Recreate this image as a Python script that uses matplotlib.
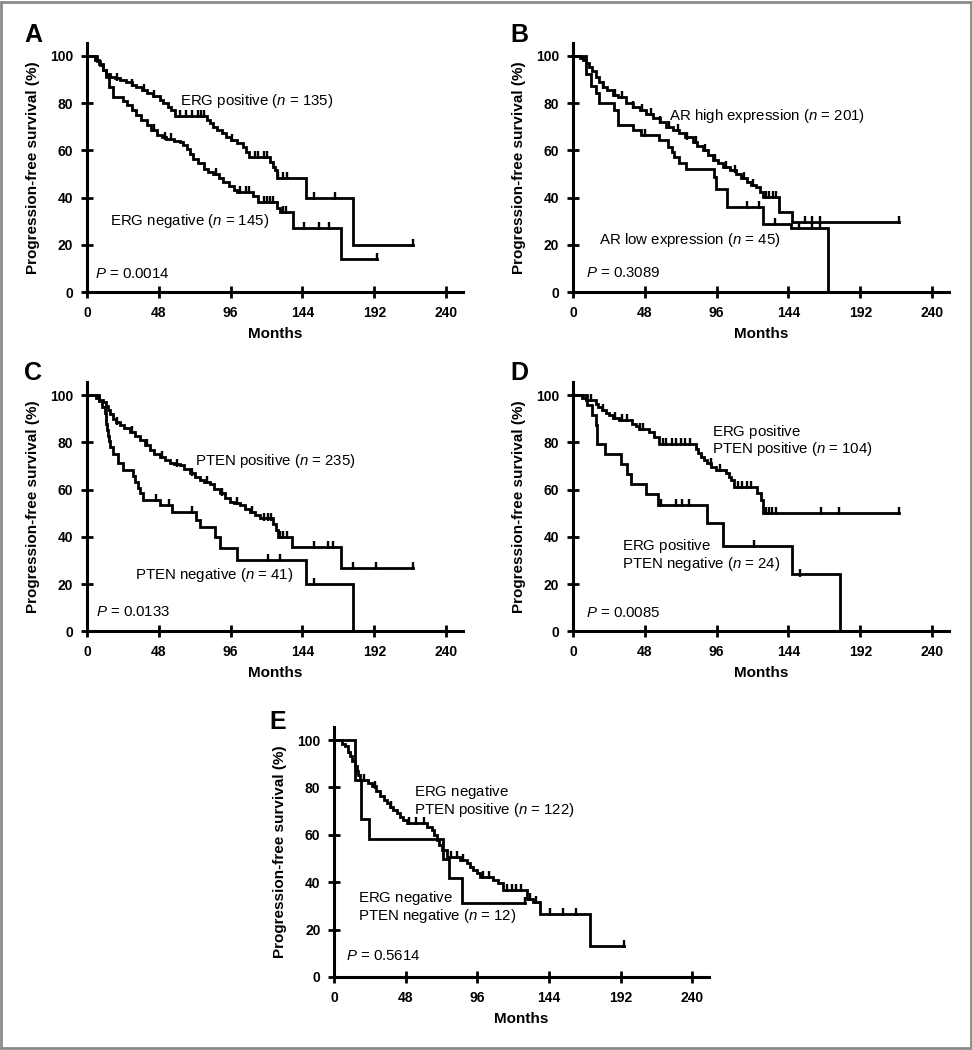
import numpy as np
import matplotlib
matplotlib.use("Agg")
import matplotlib.pyplot as plt
from matplotlib.patches import Rectangle

plt.rcParams['font.family'] = ['Liberation Sans', 'DejaVu Sans']
plt.rcParams['mathtext.fontset'] = 'custom'
plt.rcParams['mathtext.it'] = 'Liberation Sans:italic'
plt.rcParams['mathtext.rm'] = 'Liberation Sans'

# ---------------- data (months, % progression-free) ----------------
# Panel A
A_pos_t = [0, 5.5, 8, 11, 13, 15.5, 19, 22, 26, 30, 33, 37, 40, 44, 48.5, 51, 54, 56, 59,
           80, 82, 84, 87, 90, 93, 96, 100, 104.5, 106, 108, 122.5, 124, 126, 127, 146.5, 178]
A_pos_s = [100, 98.5, 96.5, 94, 92.5, 91.2, 90.5, 89.7, 88.8, 87.8, 86.7, 85.5, 84.2, 83, 81.4, 80, 78.5, 77, 74.6,
           73, 71.5, 70, 68.7, 67.2, 65.8, 64.5, 63, 61.6, 59.5, 57.4, 55, 53, 51.5, 48.2, 39.7, 19.9]
A_pos_end = 218
A_pos_cens = [20, 30, 38, 45, 62, 66, 70, 74, 76, 78, 97, 112, 114, 118, 120, 128, 131, 134, 152, 166, 218]

A_neg_t = [0, 7, 9, 11, 13, 15, 17.5, 24, 26.5, 30, 33, 36, 40, 43, 46.5, 50, 53, 58, 62, 64, 67, 69, 71, 74,
           78, 81, 84.5, 88, 91, 95, 98, 100, 111, 114.5, 127, 129, 137.5, 169.5]
A_neg_s = [100, 98, 96, 94, 91.2, 87, 82.7, 81, 79.2, 77, 74.9, 73, 70.7, 68.5, 66.4, 65.5, 65, 64, 63.6, 62.2,
           60.8, 58.5, 56.5, 54.5, 52.3, 51, 50.1, 48.5, 46.6, 44.8, 43.1, 42.3, 40.5, 38.1, 35.8, 33.8, 27.3, 13.9]
A_neg_end = 193.6
A_neg_cens = [45, 52, 56, 86, 102, 106, 108, 118, 120, 122, 124, 131, 133, 145, 155, 162, 193.6]

# Panel B
B_high_t = [0, 5, 7, 9, 11, 13, 15.5, 17.5, 20, 23, 26.5, 30, 35.5, 40, 44.5, 49, 53.5, 58, 62, 67, 71, 75,
            80, 83, 87, 90, 93.5, 97, 100, 105, 109, 112, 116, 119, 122.5, 125, 127, 138, 146.5]
B_high_s = [100, 99, 98.3, 97, 95.5, 93.5, 91.2, 89, 87, 85.5, 83.5, 82.5, 80, 78.5, 77.1, 75.5, 73.6, 72, 70,
            68.6, 67.2, 65.5, 63.6, 62, 60.1, 58, 55.8, 54.5, 53, 51.5, 50.2, 48.5, 46.6, 45.5, 44.5, 42.5, 40.3,
            33.9, 29.5]
B_high_end = 218
B_high_cens = [20, 28, 33, 40, 46, 52, 58, 64, 70, 76, 82, 88, 95, 102, 108, 114, 120, 129, 131, 134, 136,
               155, 160, 165, 218]

B_low_t = [0, 8.5, 12, 15.4, 17.5, 27.5, 29.8, 40, 45.5, 57.5, 63.3, 66, 67.7, 71, 75.5, 94.5, 95.6, 102.7,
           127.2, 145.7, 170.2]
B_low_s = [100, 92.5, 87.4, 84.2, 80, 77.2, 70.8, 68.7, 66.5, 64.4, 61.6, 59.5, 57.3, 54.5, 52.3, 48.8, 43.8,
           36.0, 29.0, 27.0, 0]
B_low_end = 170.2
B_low_cens = [48, 116, 124, 135, 151, 160, 165]

# Panel C
C_pos_t = [0, 6, 8, 10.7, 12.5, 14, 15.5, 17.4, 19.5, 21.8, 25, 28.5, 32, 35.2, 38.5, 42, 45, 48.6, 52, 55.2,
           58, 62, 65, 68.6, 72, 75.3, 78.5, 82, 85, 88.6, 92, 95.3, 98.5, 102, 105.5, 108.7, 112, 115.4, 124.5,
           126.5, 127.6, 137.2, 169.9]
C_pos_s = [100, 99, 98.2, 97.2, 95.5, 93.7, 92, 90.1, 88.5, 87.3, 86, 84.5, 82.8, 81, 78.8, 76.7, 75.2, 73.9,
           72.5, 71.1, 70.7, 70.4, 68.6, 66.9, 65.4, 64, 63.3, 62.6, 60.5, 58.4, 56.5, 54.9, 54.2, 53.5, 52,
           50.6, 49.2, 47.8, 45.5, 42.9, 40.1, 35.8, 26.7]
C_pos_end = 217.8
C_pos_cens = [20, 30, 40, 50, 60, 70, 80, 90, 100, 110, 118, 121, 123, 129, 131, 134, 152, 161, 164.4,
              177.7, 193.3, 217.8]

C_neg_t = [0, 8, 10, 12, 12.5, 13, 13.5, 14, 14.5, 15.2, 17.4, 20.7, 24.1, 31, 31.8, 34, 35.2, 37.4, 48.6, 57,
           73.1, 75.3, 85.3, 88.6, 100.2, 146.1, 177.7]
C_neg_s = [100, 97.6, 95.1, 92.7, 90.2, 87.8, 85.4, 82.9, 80.5, 78.0, 75.3, 71.1, 68.3, 65.8, 63.3, 60.8, 58.4,
           55.6, 53.5, 50.6, 47.1, 44.3, 40.1, 35.1, 30.2, 20.0, 0]
C_neg_end = 177.7
C_neg_cens = [46, 55, 70, 121, 128.7, 152]

# Panel D
D_pos_t = [0, 6, 8.5, 15.1, 17, 19.6, 22, 24.1, 27, 30.7, 39.6, 42, 44.1, 50.8, 54.1, 57.5, 82, 83.5, 85.3,
           87.5, 89.8, 92.5, 95.3, 102, 104, 105.3, 107.6, 123.2, 125.4, 127]
D_pos_s = [100, 99, 97.9, 96.5, 95, 93.7, 92.5, 91.5, 90.5, 89.4, 88, 87, 85.9, 84.5, 82.4, 79.5, 77.4, 75.6,
           73.9, 72.5, 71.1, 69.7, 68.3, 66.9, 65.5, 64, 61.2, 58.4, 55.6, 50.2]
D_pos_end = 217.8
D_pos_cens = [12, 20, 28, 33, 36, 45, 47, 60, 62, 66, 69, 72, 75, 78, 92, 98, 110, 113, 116, 119, 129, 131,
              133, 136, 165.5, 177.7, 217.8]

D_neg_t = [0, 9.6, 12.9, 15.1, 15.8, 21.4, 31.8, 36.3, 38.5, 49, 57, 89.8, 100.2, 146.1, 178.2]
D_neg_s = [100, 95.8, 91.7, 87.5, 79.2, 75, 70.8, 66.7, 62.5, 58.3, 53.5, 45.7, 36.1, 24.1, 0]
D_neg_end = 178.2
D_neg_cens = [59, 68.6, 73, 77.5, 121, 152]

# Panel E
E_pos_t = [0, 4.9, 7.2, 9, 10.5, 12, 13.9, 15, 16.1, 17.2, 22.8, 25, 28, 30.6, 33, 35.1, 37.5, 39.6, 42, 44.1,
           46, 48.5, 62, 65.3, 67, 68.7, 70.5, 72, 75.4, 84.3, 88.8, 91, 93.3, 95.5, 97.7, 106.7, 110, 113.4,
           129.1, 133, 138, 171.1]
E_pos_s = [100, 98.5, 97.3, 95, 93.1, 91, 88.9, 87, 85.3, 83.2, 82, 80.4, 78.3, 76.2, 74.7, 73.3, 71.9, 70.5,
           69, 67.7, 66.3, 64.9, 63.5, 62.1, 60, 57.8, 55.7, 53.6, 50.8, 49.4, 48, 46.5, 45.1, 43.7, 42.3, 40.9,
           39.5, 36.7, 33.1, 31.7, 26.5, 13.1]
E_pos_end = 194.4
E_pos_cens = [20, 27, 38, 50, 55, 60, 78, 82, 86, 100, 104, 116, 119, 122, 125, 131, 135, 144.7, 153.2,
              162.2, 194.4]

E_neg_t = [0, 14.1, 18.1, 23.5, 73, 76.8, 85.6]
E_neg_s = [100, 83.3, 66.7, 58.3, 50.0, 41.7, 31.3]
E_neg_end = 128
E_neg_cens = [128]

x_ticks = [0, 48, 96, 144, 192, 240]
y_ticks = [0, 20, 40, 60, 80, 100]

# ---------------- figure ----------------
W, H = 972, 1050
fig = plt.figure(figsize=(W / 100, H / 100), dpi=100)
fig.add_artist(Rectangle((0.0015, 0.0015), 0.997, 0.997, transform=fig.transFigure,
                         fill=False, edgecolor='#8a8a8a', linewidth=2))


def make_ax(x0, ybot, width_px, height_px):
    return fig.add_axes([x0 / W, (H - ybot) / H, width_px / W, height_px / H])


def surv_at(t_list, s_list, t):
    idx = np.searchsorted(np.asarray(t_list), t, side='right') - 1
    return s_list[max(idx, 0)]


def km(ax, t, s, end, cens, lw=2.0):
    tt = list(t) + [end]
    ss = list(s) + [s[-1]]
    ax.step(tt, ss, where='post', color='black', linewidth=lw, solid_joinstyle='miter')
    cy = [surv_at(t, s, c) + 0.8 for c in cens]
    ax.plot(cens, cy, linestyle='none', marker='|', markersize=5.5, markeredgewidth=1.7, color='black')


def style(ax):
    ax.set_xlim(0, 251)
    ax.set_ylim(0, 105.5)
    ax.set_xticks(x_ticks)
    ax.set_yticks(y_ticks)
    for sp in ['top', 'right']:
        ax.spines[sp].set_visible(False)
    for sp in ['left', 'bottom']:
        ax.spines[sp].set_linewidth(2.2)
    ax.tick_params(direction='inout', length=8, width=2, labelsize=10, pad=6)
    for lab in ax.get_xticklabels() + ax.get_yticklabels():
        lab.set_fontweight('bold')
    ax.set_xlabel('Months', fontsize=11, fontweight='bold', labelpad=5)
    ax.set_ylabel('Progression-free survival (%)', fontsize=11, fontweight='bold', labelpad=7)
    ax.patch.set_alpha(0)


TXT = 10.8
LSTEP = 7.5  # vertical spacing (data units) between two label lines


def two_lines(ax, x, yc, l1, l2):
    # render both lines through mathtext so their left edges line up
    ax.text(x, yc + LSTEP / 2, '$\\mathregular{' + l1.replace(' ', '\\ ') + '}$', fontsize=TXT, va='center')
    ax.text(x, yc - LSTEP / 2, l2, fontsize=TXT, va='center')


# Panel A
axA = make_ax(87, 292, 375.5, 249)
km(axA, A_pos_t, A_pos_s, A_pos_end, A_pos_cens)
km(axA, A_neg_t, A_neg_s, A_neg_end, A_neg_cens)
style(axA)
axA.text(62, 81, 'ERG positive ($n$ = 135)', fontsize=TXT, va='center')
axA.text(15.4, 30.2, 'ERG negative ($n$ = 145)', fontsize=TXT, va='center')
axA.text(5.3, 7.6, '$P$ = 0.0014', fontsize=TXT, va='center')
fig.text(33 / W, 1 - 35 / H, 'A', fontsize=18, fontweight='bold', ha='center', va='center')

# Panel B
axB = make_ax(573, 292, 375.5, 249)
km(axB, B_high_t, B_high_s, B_high_end, B_high_cens)
km(axB, B_low_t, B_low_s, B_low_end, B_low_cens)
style(axB)
axB.text(64.4, 74.7, 'AR high expression ($n$ = 201)', fontsize=TXT, va='center')
axB.text(17.6, 22, 'AR low expression ($n$ = 45)', fontsize=TXT, va='center')
axB.text(8.7, 7.9, '$P$ = 0.3089', fontsize=TXT, va='center')
fig.text(519 / W, 1 - 35 / H, 'B', fontsize=18, fontweight='bold', ha='center', va='center')

# Panel C
axC = make_ax(87, 631.3, 375.5, 249)
km(axC, C_pos_t, C_pos_s, C_pos_end, C_pos_cens)
km(axC, C_neg_t, C_neg_s, C_neg_end, C_neg_cens)
style(axC)
axC.text(71.9, 72.2, 'PTEN positive ($n$ = 235)', fontsize=TXT, va='center')
axC.text(31.8, 23.8, 'PTEN negative ($n$ = 41)', fontsize=TXT, va='center')
axC.text(6.2, 8.0, '$P$ = 0.0133', fontsize=TXT, va='center')
fig.text(33 / W, 1 - 373 / H, 'C', fontsize=18, fontweight='bold', ha='center', va='center')

# Panel D
axD = make_ax(573, 631.3, 375.5, 249)
km(axD, D_pos_t, D_pos_s, D_pos_end, D_pos_cens)
km(axD, D_neg_t, D_neg_s, D_neg_end, D_neg_cens)
style(axD)
two_lines(axD, 93.1, 80.8, 'ERG positive', 'PTEN positive ($n$ = 104)')
two_lines(axD, 32.5, 32.3, 'ERG positive', 'PTEN negative ($n$ = 24)')
axD.text(8.5, 7.9, '$P$ = 0.0085', fontsize=TXT, va='center')
fig.text(519 / W, 1 - 373 / H, 'D', fontsize=18, fontweight='bold', ha='center', va='center')

# Panel E
axE = make_ax(334.3, 977, 374.4, 250)
km(axE, E_pos_t, E_pos_s, E_pos_end, E_pos_cens)
km(axE, E_neg_t, E_neg_s, E_neg_end, E_neg_cens)
style(axE)
two_lines(axE, 53.5, 74.2, 'ERG negative', 'PTEN positive ($n$ = 122)')
two_lines(axE, 16.1, 29.6, 'ERG negative', 'PTEN negative ($n$ = 12)')
axE.text(7.8, 8.7, '$P$ = 0.5614', fontsize=TXT, va='center')
fig.text(278 / W, 1 - 722 / H, 'E', fontsize=18, fontweight='bold', ha='center', va='center')

fig.savefig('out.png', dpi=100, facecolor='white')
